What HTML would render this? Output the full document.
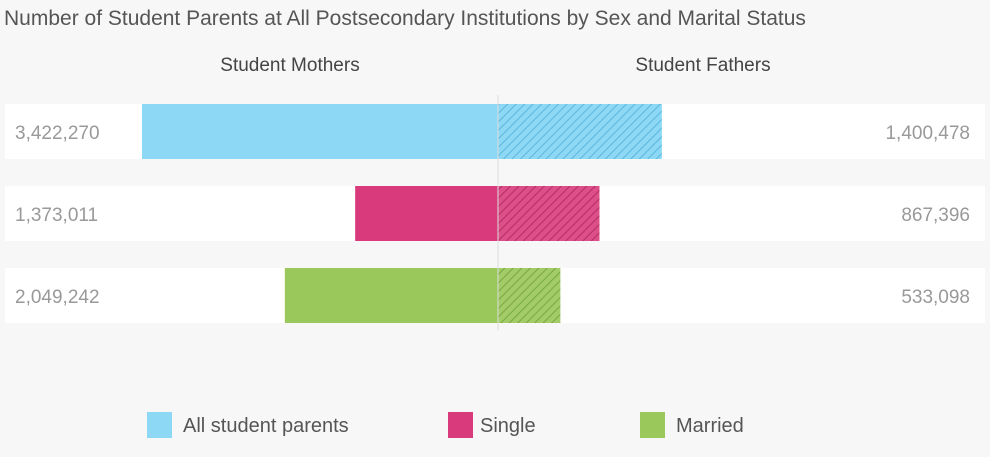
<!DOCTYPE html>
<html><head><meta charset="utf-8"><style>
body{margin:0;width:990px;height:452px;background:#f7f7f7;font-family:"Liberation Sans",sans-serif;overflow:hidden}
</style></head><body>
<svg width="990" height="452" xmlns="http://www.w3.org/2000/svg">
<defs>
<pattern id="h0" width="6" height="6" patternUnits="userSpaceOnUse" patternTransform="rotate(45)"><rect width="6" height="6" fill="#8dd8f5"/><line x1="0" y1="0" x2="0" y2="6" stroke="#5bb6dc" stroke-width="2"/></pattern>
<pattern id="h1" width="6" height="6" patternUnits="userSpaceOnUse" patternTransform="rotate(45)"><rect width="6" height="6" fill="#dc4f88"/><line x1="0" y1="0" x2="0" y2="6" stroke="#b42d66" stroke-width="2"/></pattern>
<pattern id="h2" width="6" height="6" patternUnits="userSpaceOnUse" patternTransform="rotate(45)"><rect width="6" height="6" fill="#a3cc68"/><line x1="0" y1="0" x2="0" y2="6" stroke="#78a840" stroke-width="2"/></pattern>
</defs>
<text x="4" y="25" font-size="21" fill="#555">Number of Student Parents at All Postsecondary Institutions by Sex and Marital Status</text>
<text x="290" y="71" font-size="19" fill="#444" text-anchor="middle">Student Mothers</text>
<text x="703" y="71" font-size="19" fill="#444" text-anchor="middle">Student Fathers</text>
<g id="rows"></g>
<line x1="498" y1="95" x2="498" y2="330" stroke="#ddd" stroke-width="1"/>
<g>
<rect x="147" y="412" width="25" height="26" fill="#8dd8f5"/>
<text x="183" y="432" font-size="20" fill="#555">All student parents</text>
<rect x="448" y="412" width="25" height="26" fill="#d83a7c"/>
<text x="480" y="432" font-size="20" fill="#555">Single</text>
<rect x="640" y="412" width="25" height="26" fill="#9bc85a"/>
<text x="676" y="432" font-size="20" fill="#555">Married</text>
</g>
</svg>
<script>
const categories=["All student parents","Single","Married"];
const mothers=[3422270,1373011,2049242];
const fathers=[1400478,867396,533098];
const colors=["#8dd8f5","#d83a7c","#9bc85a"];
const cx=498, lScale=356/3422270, rScale=1.17e-4;
const g=document.getElementById('rows');
const NS="http://www.w3.org/2000/svg";
function mk(t,a){const e=document.createElementNS(NS,t);for(const k in a)e.setAttribute(k,a[k]);return e;}
const fmt=v=>v.toLocaleString('en-US');
categories.forEach((c,i)=>{
  const y=104+i*82;
  const bg=mk('rect',{x:5,y:y,width:980,height:55,fill:'#fff'});
  
  
  g.appendChild(bg);
  const wl=mothers[i]*lScale;
  const bl=mk('rect',{x:cx-wl,y:y,width:wl,height:55,fill:colors[i]});
  
  
  g.appendChild(bl);
  const wr=fathers[i]*rScale;
  const br=mk('rect',{x:cx,y:y,width:wr,height:55,fill:'url(#h'+i+')'});
  
  
  g.appendChild(br);
  const tl=mk('text',{x:15,y:y+35,'font-size':19,fill:'#999'});
  tl.textContent=fmt(mothers[i]);
  
  
  g.appendChild(tl);
  const tr=mk('text',{x:970,y:y+35,'font-size':19,fill:'#999','text-anchor':'end'});
  tr.textContent=fmt(fathers[i]);
  
  
  g.appendChild(tr);
});
</script>
</body></html>
